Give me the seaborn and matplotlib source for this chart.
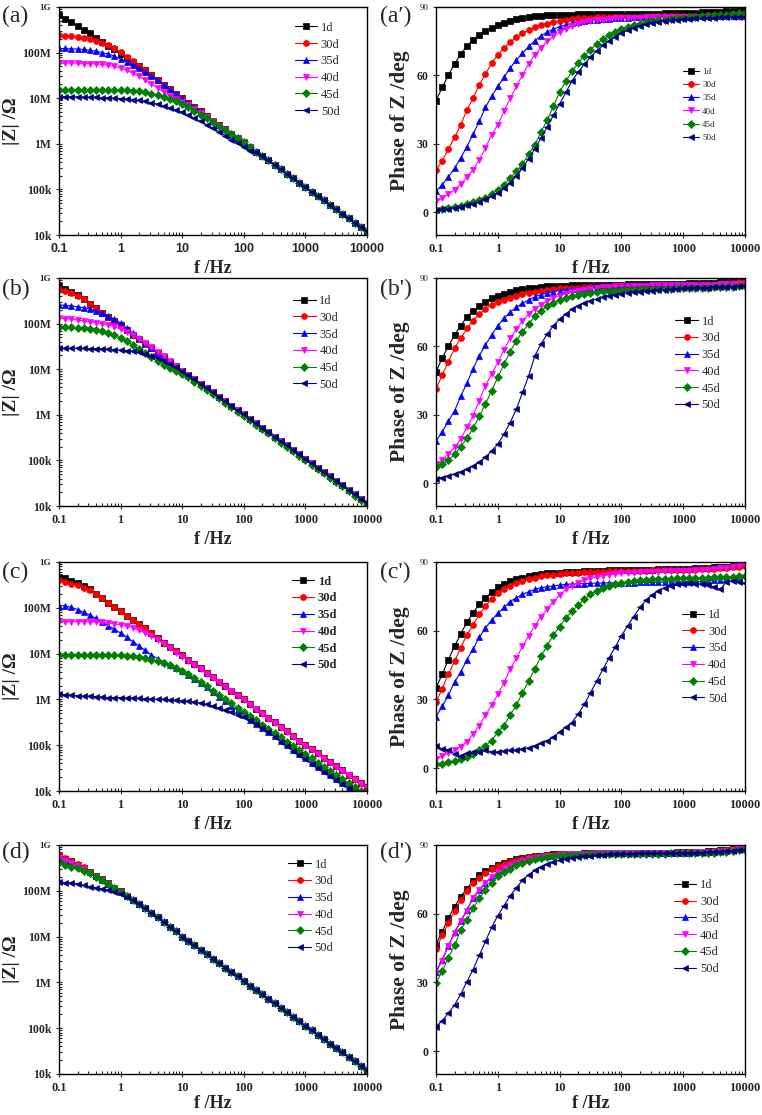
import numpy as np
import matplotlib
matplotlib.use("Agg")
import matplotlib.pyplot as plt
from matplotlib.ticker import LogLocator, NullFormatter
import seaborn as sns

# frequency sweep (Hz), 10 points per decade
freq = [0.1, 0.126, 0.158, 0.2, 0.251, 0.316, 0.398, 0.501, 0.631, 0.794,
        1, 1.26, 1.58, 2, 2.51, 3.16, 3.98, 5.01, 6.31, 7.94,
        10, 12.6, 15.8, 20, 25.1, 31.6, 39.8, 50.1, 63.1, 79.4,
        100, 126, 158, 200, 251, 316, 398, 501, 631, 794,
        1000, 1260, 1580, 2000, 2510, 3160, 3980, 5010, 6310, 7940, 10000]

days = ["1d", "30d", "35d", "40d", "45d", "50d"]
colors = ["#000000", "#ff0000", "#0000ff", "#ff00ff", "#008000", "#000080"]
markers = ["s", "o", "^", "v", "D", "<"]

xticks = [0.1, 1, 10, 100, 1000, 10000]
xticklabels = ["0.1", "1", "10", "100", "1000", "10000"]
zticks = [1e4, 1e5, 1e6, 1e7, 1e8, 1e9]
zticklabels = ["10k", "100k", "1M", "10M", "100M", "1G"]
pticks = [0, 30, 60, 90]
pticklabels = ["0", "30", "60", "90"]


def fill(head, line):
    """low-frequency part of a curve followed by the shared high-frequency line"""
    return head + line[len(head):]


# ---- (a) log10 |Z| ----
za_1d = [8.82, 8.74, 8.67, 8.59, 8.50, 8.42, 8.32, 8.23, 8.14, 8.07,
         7.98, 7.88, 7.79, 7.70, 7.61, 7.50, 7.39, 7.30, 7.20, 7.10,
         7.00, 6.90, 6.81, 6.71, 6.61, 6.51, 6.42, 6.32, 6.22, 6.12,
         6.03, 5.93, 5.83, 5.73, 5.64, 5.54, 5.44, 5.34, 5.25, 5.15,
         5.05, 4.95, 4.86, 4.76, 4.66, 4.56, 4.47, 4.37, 4.27, 4.18, 4.08]
za_30d = fill([8.38, 8.37, 8.36, 8.35, 8.33, 8.30, 8.26, 8.21, 8.16, 8.09,
               8.01, 7.91, 7.81, 7.71], za_1d)
za_35d = fill([8.09, 8.09, 8.08, 8.08, 8.07, 8.05, 8.03, 8.00, 7.97, 7.92,
               7.86, 7.80, 7.73, 7.66, 7.58, 7.49, 7.39], za_1d)
za_40d = fill([7.77, 7.77, 7.77, 7.77, 7.76, 7.76, 7.75, 7.74, 7.72, 7.70,
               7.66, 7.61, 7.55, 7.48, 7.40, 7.31, 7.22, 7.13, 7.05, 6.98,
               6.92, 6.84, 6.76, 6.67, 6.58, 6.49, 6.40, 6.31, 6.21, 6.12], za_1d)
za_45d = fill([7.19, 7.19, 7.19, 7.19, 7.19, 7.19, 7.19, 7.19, 7.19, 7.18,
               7.18, 7.17, 7.16, 7.15, 7.13, 7.10, 7.07, 7.03, 6.98, 6.93,
               6.87, 6.80, 6.72, 6.64, 6.56, 6.48, 6.39, 6.30, 6.21, 6.12], za_1d)
za_50d = fill([7.03, 7.03, 7.03, 7.03, 7.02, 7.02, 7.02, 7.01, 7.01, 7.00,
               6.99, 6.98, 6.97, 6.95, 6.93, 6.90, 6.87, 6.83, 6.79, 6.74,
               6.69, 6.63, 6.56, 6.49, 6.42, 6.34, 6.26, 6.18, 6.09, 6.01,
               5.93, 5.84], za_1d)

# ---- (a') phase ----
pa_1d = [48.9, 54.7, 60.0, 65.1, 69.4, 72.7, 75.7, 77.9, 79.5, 80.9,
         82.2, 83.1, 84.0, 84.7, 85.2, 85.6, 85.9, 86.2, 86.3, 86.5,
         86.6, 86.7, 86.7, 86.8, 86.8, 86.8, 86.9, 86.9, 86.9, 86.9,
         87.0, 87.0, 87.0, 87.0, 87.1, 87.1, 87.1, 87.2, 87.2, 87.3,
         87.3, 87.4, 87.5, 87.6, 87.7, 87.8, 88.0, 88.2, 88.4, 88.6, 88.8]
pa_30d = [18.6, 22.5, 27.7, 32.8, 38.3, 44.9, 50.0, 55.9, 60.6, 65.3,
          69.1, 72.0, 74.6, 76.8, 78.6, 79.8, 81.1, 82.0, 82.7, 83.5,
          84.0, 84.4, 84.8, 85.0, 85.2, 85.3, 85.4, 85.5, 85.6, 85.6,
          85.7, 85.7, 85.8, 85.8, 85.8, 85.9, 85.9, 85.9, 86.0, 86.0,
          86.0, 86.1, 86.1, 86.2, 86.3, 86.4, 86.5, 86.6, 86.8, 87.0, 87.2]
pa_35d = [9.1, 12.1, 15.4, 19.3, 23.7, 28.8, 34.2, 39.8, 46.0, 50.8,
          55.2, 59.1, 63.2, 66.7, 69.8, 72.7, 75.2, 77.4, 79.0, 80.3,
          81.4, 82.2, 82.8, 83.4, 83.8, 84.2, 84.5, 84.7, 84.9, 85.1,
          85.2, 85.3, 85.4, 85.5, 85.5, 85.6, 85.6, 85.7, 85.7, 85.7,
          85.8, 85.8, 85.8, 85.9, 85.9, 85.9, 86.0, 86.0, 86.1, 86.1, 86.2]
pa_40d = [4.7, 6.1, 7.9, 9.8, 12.3, 15.4, 18.6, 23.0, 28.1, 34.0,
          38.3, 44.2, 50.0, 55.2, 60.3, 65.0, 69.1, 72.0, 74.9, 77.1,
          79.0, 80.5, 81.5, 82.5, 83.3, 83.7, 84.1, 84.4, 84.7, 85.0,
          85.1, 85.2, 85.3, 85.3, 85.4, 85.4, 85.5, 85.5, 85.5, 85.5,
          85.5, 85.6, 85.6, 85.6, 85.6, 85.7, 85.7, 85.7, 85.8, 85.8, 85.9]
pa_45d = [1.0, 1.5, 1.8, 2.2, 2.9, 3.5, 4.4, 5.3, 6.4, 7.9,
          9.8, 12.0, 14.9, 18.1, 21.2, 25.5, 29.6, 35.1, 40.5, 46.4,
          52.7, 57.4, 61.8, 65.4, 68.6, 71.3, 73.8, 75.8, 77.6, 79.0,
          80.2, 81.2, 82.0, 82.7, 83.3, 83.7, 84.1, 84.4, 84.7, 85.0,
          85.3, 85.5, 85.7, 85.9, 86.1, 86.3, 86.5, 86.7, 87.0, 87.2, 87.5]
pa_50d = [1.0, 1.2, 1.5, 1.9, 2.4, 3.0, 3.7, 4.6, 5.6, 6.9,
          8.5, 10.5, 13.0, 16.0, 19.5, 23.5, 27.8, 32.5, 37.5, 42.5,
          47.5, 52.5, 57.5, 61.5, 65.0, 68.0, 70.8, 73.2, 75.2, 77.0,
          78.5, 79.8, 80.8, 81.7, 82.4, 83.0, 83.5, 83.9, 84.2, 84.5,
          84.7, 84.9, 85.0, 85.1, 85.2, 85.3, 85.4, 85.5, 85.6, 85.7, 85.8]

# ---- (b) log10 |Z| ----
zb_1d = [8.83, 8.76, 8.70, 8.63, 8.54, 8.44, 8.34, 8.24, 8.15, 8.06,
         7.96, 7.86, 7.76, 7.66, 7.56, 7.46, 7.36, 7.26, 7.16, 7.07,
         6.97, 6.88, 6.78, 6.68, 6.59, 6.49, 6.39, 6.30, 6.20, 6.10,
         6.01, 5.91, 5.81, 5.72, 5.62, 5.52, 5.42, 5.33, 5.23, 5.13,
         5.04, 4.94, 4.84, 4.75, 4.65, 4.55, 4.46, 4.36, 4.26, 4.16, 4.07]
zb_30d = fill([8.76, 8.72, 8.67, 8.61, 8.53, 8.44], zb_1d)
zb_35d = fill([8.41, 8.40, 8.39, 8.37, 8.35, 8.32, 8.28, 8.23, 8.17, 8.10,
               8.01, 7.90, 7.79, 7.68, 7.57], zb_1d)
zb_40d = fill([8.12, 8.11, 8.10, 8.08, 8.06, 8.04, 8.02, 8.00, 7.97, 7.93,
               7.88, 7.82, 7.75, 7.67, 7.58, 7.48, 7.38, 7.28, 7.17, 7.07], zb_1d)
zb_45d = [7.93, 7.92, 7.92, 7.91, 7.90, 7.88, 7.86, 7.83, 7.79, 7.74,
          7.68, 7.61, 7.53, 7.44, 7.35, 7.26, 7.17, 7.09, 7.02, 6.96,
          6.90, 6.82, 6.73, 6.64, 6.55, 6.45, 6.36, 6.26, 6.17, 6.07,
          5.98, 5.88, 5.78, 5.69, 5.59, 5.49, 5.39, 5.30, 5.20, 5.10,
          5.01, 4.91, 4.81, 4.72, 4.62, 4.52, 4.43, 4.33, 4.23, 4.13, 4.04]
zb_50d = fill([7.46, 7.46, 7.46, 7.46, 7.46, 7.45, 7.45, 7.45, 7.44, 7.43,
               7.42, 7.41, 7.39, 7.37, 7.34, 7.30, 7.25, 7.19, 7.12, 7.04,
               6.96, 6.87], zb_1d)

# ---- (b') phase ----
pb_1d = [48.9, 54.9, 60.0, 65.0, 69.1, 72.8, 75.7, 77.6, 79.6, 81.1,
         82.3, 83.2, 84.0, 84.6, 85.1, 85.5, 85.8, 86.1, 86.3, 86.5,
         86.6, 86.7, 86.8, 86.9, 86.9, 87.0, 87.0, 87.0, 87.1, 87.1,
         87.1, 87.2, 87.2, 87.2, 87.3, 87.3, 87.3, 87.4, 87.4, 87.5,
         87.5, 87.6, 87.7, 87.8, 87.9, 88.0, 88.2, 88.4, 88.6, 88.8, 89.0]
pb_30d = [41.3, 47.4, 53.3, 59.2, 63.5, 67.9, 71.3, 74.2, 76.4, 78.2,
          79.4, 80.5, 81.4, 82.3, 83.0, 83.5, 84.0, 84.4, 84.8, 85.1,
          85.4, 85.6, 85.7, 85.8, 85.9, 86.0, 86.0, 86.1, 86.1, 86.2,
          86.2, 86.2, 86.3, 86.3, 86.3, 86.4, 86.4, 86.4, 86.5, 86.5,
          86.5, 86.6, 86.7, 86.8, 86.9, 87.1, 87.3, 87.5, 87.8, 88.1, 88.5]
pb_35d = [18.6, 22.5, 27.1, 31.8, 38.1, 43.9, 50.1, 55.9, 60.6, 65.0,
          69.1, 72.3, 75.0, 77.2, 78.9, 80.4, 81.8, 82.7, 83.5, 84.0,
          84.5, 84.8, 85.1, 85.3, 85.5, 85.7, 85.9, 86.0, 86.1, 86.2,
          86.3, 86.3, 86.4, 86.4, 86.4, 86.5, 86.5, 86.5, 86.5, 86.6,
          86.6, 86.6, 86.6, 86.7, 86.7, 86.7, 86.8, 86.8, 86.9, 86.9, 87.0]
pb_40d = [8.3, 10.2, 12.7, 15.7, 19.3, 24.5, 29.6, 36.2, 42.8, 47.9,
          53.0, 58.6, 63.5, 67.6, 71.3, 74.2, 76.4, 78.2, 79.8, 81.1,
          82.3, 83.1, 83.8, 84.4, 84.9, 85.3, 85.6, 85.9, 86.1, 86.3,
          86.5, 86.6, 86.6, 86.7, 86.7, 86.8, 86.8, 86.8, 86.9, 86.9,
          86.9, 87.0, 87.0, 87.0, 87.1, 87.1, 87.2, 87.2, 87.3, 87.4, 87.5]
pb_45d = [6.9, 8.3, 10.1, 12.7, 16.0, 19.8, 24.0, 29.3, 34.7, 40.6,
          46.4, 52.3, 57.7, 62.5, 66.5, 69.8, 73.2, 75.7, 77.6, 79.1,
          80.2, 81.1, 81.9, 82.5, 83.0, 83.4, 83.8, 84.1, 84.3, 84.5,
          84.7, 84.8, 84.9, 85.0, 85.1, 85.2, 85.2, 85.3, 85.3, 85.4,
          85.5, 85.5, 85.6, 85.7, 85.8, 85.9, 86.0, 86.1, 86.2, 86.4, 86.5]
pb_50d = [2.0, 2.5, 3.2, 4.0, 5.0, 6.1, 7.6, 9.1, 11.3, 14.2,
          17.1, 21.5, 26.6, 32.5, 39.8, 47.1, 55.9, 61.1, 65.4, 69.1,
          72.0, 74.2, 76.4, 77.9, 79.1, 80.1, 80.8, 81.6, 82.3, 82.7,
          83.2, 83.5, 83.8, 84.0, 84.3, 84.5, 84.7, 84.9, 85.1, 85.2,
          85.4, 85.5, 85.6, 85.7, 85.8, 85.9, 86.0, 86.1, 86.2, 86.4, 86.5]

# ---- (c) log10 |Z| ----
zc_1d = [8.67, 8.64, 8.59, 8.54, 8.48, 8.40, 8.31, 8.22, 8.11, 8.02,
         7.93, 7.82, 7.73, 7.64, 7.55, 7.44, 7.34, 7.24, 7.15, 7.05,
         6.97, 6.87, 6.78, 6.68, 6.58, 6.48, 6.39, 6.29, 6.19, 6.09,
         6.00, 5.90, 5.80, 5.70, 5.60, 5.50, 5.40, 5.30, 5.20, 5.10,
         5.00, 4.91, 4.82, 4.72, 4.63, 4.54, 4.45, 4.36, 4.27, 4.18, 4.09]
zc_30d = fill([8.60, 8.57, 8.53, 8.49, 8.44, 8.38, 8.31], zc_1d)
zc_35d = [8.05, 8.04, 8.01, 7.96, 7.90, 7.84, 7.77, 7.69, 7.61, 7.53,
          7.45, 7.36, 7.26, 7.17, 7.07, 6.97, 6.89, 6.82, 6.76, 6.69,
          6.62, 6.54, 6.45, 6.36, 6.26, 6.16, 6.06, 5.96, 5.86, 5.76,
          5.66, 5.56, 5.47, 5.38, 5.29, 5.19, 5.10, 5.00, 4.90, 4.80,
          4.71, 4.62, 4.53, 4.44, 4.35, 4.26, 4.17, 4.08, 3.99, 3.90, 3.81]
zc_40d = [7.70, 7.70, 7.70, 7.70, 7.70, 7.69, 7.69, 7.68, 7.67, 7.65,
          7.63, 7.60, 7.56, 7.51, 7.45, 7.38, 7.30, 7.21, 7.12, 7.02,
          6.93, 6.84, 6.75, 6.66, 6.56, 6.47, 6.37, 6.27, 6.18, 6.08,
          5.98, 5.88, 5.78, 5.68, 5.58, 5.48, 5.38, 5.28, 5.18, 5.08,
          4.98, 4.89, 4.80, 4.70, 4.61, 4.52, 4.43, 4.34, 4.25, 4.16, 4.07]
zc_45d = [6.98, 6.98, 6.98, 6.98, 6.98, 6.98, 6.98, 6.97, 6.97, 6.97,
          6.96, 6.95, 6.94, 6.92, 6.90, 6.87, 6.84, 6.80, 6.75, 6.69,
          6.63, 6.55, 6.47, 6.38, 6.29, 6.19, 6.10, 6.01, 5.92, 5.82,
          5.73, 5.64, 5.54, 5.45, 5.36, 5.26, 5.17, 5.08, 4.98, 4.89,
          4.80, 4.71, 4.62, 4.53, 4.44, 4.35, 4.26, 4.17, 4.08, 4.00, 3.92]
zc_50d = [6.12, 6.10, 6.09, 6.08, 6.07, 6.07, 6.06, 6.05, 6.04, 6.04,
          6.04, 6.03, 6.03, 6.02, 6.01, 6.01, 6.00, 6.00, 5.99, 5.98,
          5.97, 5.96, 5.94, 5.92, 5.89, 5.85, 5.81, 5.77, 5.72, 5.67,
          5.61, 5.54, 5.46, 5.37, 5.28, 5.18, 5.08, 4.98, 4.88, 4.78,
          4.69, 4.60, 4.51, 4.42, 4.33, 4.24, 4.15, 4.06, 3.97, 3.88, 3.79]

# ---- (c') phase ----
pc_1d = [35.1, 40.9, 47.4, 53.2, 58.7, 63.6, 67.9, 71.5, 74.1, 77.0,
         78.9, 80.3, 81.5, 82.4, 83.2, 84.0, 84.4, 84.7, 85.0, 85.3,
         85.4, 85.6, 85.7, 85.8, 85.9, 86.0, 86.1, 86.2, 86.3, 86.4,
         86.5, 86.5, 86.6, 86.6, 86.7, 86.7, 86.8, 86.8, 86.9, 86.9,
         87.0, 87.1, 87.2, 87.3, 87.4, 87.6, 87.8, 88.0, 88.3, 88.6, 89.0]
pc_30d = [28.9, 34.7, 40.9, 46.7, 52.5, 58.2, 62.6, 67.2, 70.8, 73.7,
          76.3, 78.0, 79.6, 80.9, 81.8, 82.7, 83.2, 83.8, 84.2, 84.5,
          84.8, 85.0, 85.2, 85.4, 85.5, 85.6, 85.7, 85.8, 85.9, 85.9,
          86.0, 86.1, 86.1, 86.2, 86.2, 86.3, 86.3, 86.4, 86.4, 86.5,
          86.5, 86.6, 86.7, 86.8, 86.9, 87.1, 87.3, 87.5, 87.7, 88.0, 88.3]
pc_35d = [22.5, 26.9, 31.8, 37.6, 41.9, 47.4, 52.0, 57.1, 61.1, 64.7,
          67.6, 70.2, 72.7, 74.4, 75.9, 77.0, 78.0, 78.8, 79.2, 79.6,
          79.9, 80.2, 80.4, 80.5, 80.6, 80.7, 80.8, 80.8, 80.9, 80.9,
          81.0, 81.0, 81.0, 81.1, 81.1, 81.1, 81.2, 81.2, 81.2, 81.3,
          81.3, 81.4, 81.5, 81.6, 81.8, 82.0, 82.3, 82.7, 83.1, 83.6, 84.2]
pc_40d = [4.0, 5.2, 6.6, 7.7, 9.4, 11.6, 14.9, 18.5, 23.1, 27.5,
          32.2, 37.3, 43.1, 48.1, 53.2, 57.8, 62.1, 66.2, 69.4, 72.7,
          75.6, 78.0, 79.6, 80.9, 82.1, 82.8, 83.5, 84.0, 84.4, 84.7,
          85.0, 85.2, 85.4, 85.5, 85.6, 85.7, 85.8, 85.9, 86.0, 86.0,
          86.1, 86.2, 86.3, 86.5, 86.7, 86.9, 87.2, 87.5, 87.9, 88.3, 88.8]
pc_45d = [1.6, 2.0, 2.6, 3.3, 4.0, 4.8, 6.2, 8.1, 9.8, 12.0,
          15.6, 18.5, 23.1, 27.5, 32.9, 38.0, 43.4, 48.8, 53.5, 58.2,
          61.8, 65.5, 68.4, 71.2, 73.7, 75.9, 77.5, 78.8, 79.6, 80.3,
          80.9, 81.4, 81.7, 82.0, 82.2, 82.4, 82.5, 82.6, 82.7, 82.8,
          82.9, 83.0, 83.0, 83.1, 83.2, 83.3, 83.4, 83.5, 83.6, 83.8, 84.0]
pc_50d = [9.8, 8.4, 8.1, 6.2, 5.5, 6.5, 6.9, 7.2, 7.7, 7.2,
          6.9, 7.4, 7.7, 7.9, 8.4, 8.8, 9.8, 10.8, 12.0, 13.4,
          15.9, 17.8, 19.9, 23.6, 27.9, 32.9, 38.0, 43.1, 48.1, 52.9,
          57.8, 62.1, 66.2, 70.2, 73.4, 75.6, 77.5, 78.8, 79.6, 80.3,
          80.6, 80.9, 80.6, 80.3, 79.9, 79.2, 78.0, 81.4, 81.8, 81.2, 80.9]

# ---- (d) log10 |Z| ----
zd_1d = [8.76, 8.70, 8.64, 8.57, 8.50, 8.41, 8.33, 8.25, 8.16, 8.07,
         7.99, 7.89, 7.80, 7.71, 7.62, 7.52, 7.42, 7.32, 7.22, 7.12,
         7.00, 6.91, 6.81, 6.71, 6.62, 6.52, 6.42, 6.32, 6.23, 6.13,
         6.03, 5.93, 5.83, 5.74, 5.64, 5.54, 5.44, 5.35, 5.25, 5.15,
         5.05, 4.96, 4.86, 4.76, 4.66, 4.57, 4.47, 4.37, 4.28, 4.18, 4.08]
zd_30d = fill([8.78, 8.72, 8.65, 8.58, 8.51, 8.42], zd_1d)
zd_35d = fill([8.72, 8.67, 8.61, 8.55, 8.48, 8.40, 8.32, 8.24, 8.15, 8.07,
               7.98], zd_1d)
zd_40d = fill([8.71, 8.66, 8.60, 8.54, 8.47, 8.39, 8.31, 8.23, 8.15, 8.06,
               7.97], zd_1d)
zd_45d = fill([8.62, 8.57, 8.53, 8.49, 8.44, 8.38, 8.31, 8.23, 8.15, 8.07,
               7.98], zd_1d)
zd_50d = fill([8.20, 8.18, 8.17, 8.15, 8.12, 8.09, 8.07, 8.04, 8.01, 7.97,
               7.93, 7.87, 7.80, 7.71], zd_1d)

# ---- (d') phase ----
pd_1d = [46.5, 52.2, 58.0, 63.1, 67.4, 71.0, 74.3, 76.8, 78.5, 79.9,
         81.1, 82.3, 83.0, 83.7, 84.3, 84.7, 85.1, 85.4, 85.7, 85.9,
         86.0, 86.1, 86.2, 86.2, 86.3, 86.3, 86.4, 86.4, 86.4, 86.5,
         86.5, 86.5, 86.6, 86.6, 86.6, 86.7, 86.7, 86.7, 86.7, 86.8,
         86.8, 86.9, 87.0, 87.1, 87.2, 87.4, 87.6, 87.9, 88.2, 88.6, 89.0]
pd_30d = [44.6, 50.5, 55.8, 61.2, 65.9, 69.8, 73.2, 75.8, 77.8, 79.4,
          80.7, 81.8, 82.7, 83.4, 84.0, 84.6, 85.0, 85.3, 85.5, 85.7,
          85.9, 86.0, 86.1, 86.2, 86.2, 86.3, 86.3, 86.4, 86.4, 86.4,
          86.5, 86.5, 86.5, 86.6, 86.6, 86.6, 86.7, 86.7, 86.7, 86.8,
          86.8, 86.9, 86.9, 87.0, 87.1, 87.3, 87.5, 87.8, 88.1, 88.5, 88.9]
pd_40d = [34.2, 39.5, 45.7, 51.5, 56.6, 61.2, 66.7, 70.3, 73.4, 76.0,
          78.2, 79.9, 81.1, 82.3, 83.0, 83.7, 84.3, 84.7, 85.1, 85.4,
          85.7, 85.9, 86.0, 86.1, 86.2, 86.2, 86.3, 86.3, 86.3, 86.4,
          86.4, 86.4, 86.5, 86.5, 86.5, 86.5, 86.6, 86.6, 86.6, 86.6,
          86.7, 86.7, 86.8, 86.9, 87.0, 87.1, 87.3, 87.5, 87.8, 88.1, 88.5]
pd_35d = fill([34.6, 39.9, 46.0, 51.8, 56.9, 61.5, 66.9, 70.5, 73.6, 76.2,
               78.3, 80.0, 81.2, 82.4, 83.1, 83.8], pd_40d)
pd_45d = [29.6, 34.9, 40.7, 46.2, 53.0, 57.3, 62.3, 66.7, 70.3, 73.6,
          76.3, 78.2, 79.7, 81.1, 82.1, 83.0, 83.7, 84.3, 84.7, 85.0,
          85.3, 85.5, 85.6, 85.7, 85.8, 85.9, 85.9, 86.0, 86.0, 86.0,
          86.0, 86.1, 86.1, 86.1, 86.2, 86.2, 86.2, 86.2, 86.3, 86.3,
          86.3, 86.4, 86.5, 86.5, 86.6, 86.7, 86.9, 87.1, 87.4, 87.7, 88.0]
pd_50d = [10.7, 13.3, 16.5, 20.2, 24.8, 30.3, 35.6, 41.8, 47.9, 54.0,
          59.2, 63.5, 67.8, 71.3, 74.6, 77.1, 78.9, 80.4, 81.5, 82.5,
          83.3, 84.0, 84.4, 84.8, 85.1, 85.4, 85.6, 85.8, 85.9, 86.0,
          86.1, 86.2, 86.2, 86.3, 86.3, 86.4, 86.4, 86.4, 86.5, 86.5,
          86.5, 86.6, 86.6, 86.7, 86.8, 86.9, 87.1, 87.3, 87.5, 87.8, 88.0]

sns.set_style("ticks")
plt.rcParams["font.family"] = ["Liberation Serif", "DejaVu Serif"]
plt.rcParams["axes.linewidth"] = 1.0

W, H = 762, 1115
fig = plt.figure(figsize=(W / 100, H / 100), dpi=100)

# (series, kind, tag, row, col, legend anchor, legend fontsize, legend spacing, legend bold)
panels = [
    ([za_1d, za_30d, za_35d, za_40d, za_45d, za_50d], "mod", "(a)", 0, 0, (0.765, 0.935), 9, 0.38, False),
    ([pa_1d, pa_30d, pa_35d, pa_40d, pa_45d, pa_50d], "phase", "(a\u2032)", 0, 1, (0.80, 0.735), 6.5, 0.55, False),
    ([zb_1d, zb_30d, zb_35d, zb_40d, zb_45d, zb_50d], "mod", "(b)", 1, 0, (0.76, 0.925), 9, 0.38, False),
    ([pb_1d, pb_30d, pb_35d, pb_40d, pb_45d, pb_50d], "phase", "(b')", 1, 1, (0.775, 0.835), 9, 0.38, False),
    ([zc_1d, zc_30d, zc_35d, zc_40d, zc_45d, zc_50d], "mod", "(c)", 2, 0, (0.755, 0.94), 9, 0.38, True),
    ([pc_1d, pc_30d, pc_35d, pc_40d, pc_45d, pc_50d], "phase", "(c')", 2, 1, (0.795, 0.795), 9, 0.38, False),
    ([zd_1d, zd_30d, zd_35d, zd_40d, zd_45d, zd_50d], "mod", "(d)", 3, 0, (0.745, 0.94), 9, 0.38, False),
    ([pd_1d, pd_30d, pd_35d, pd_40d, pd_45d, pd_50d], "phase", "(d')", 3, 1, (0.77, 0.85), 9, 0.38, False),
]

# axes boxes in pixels: (left, right) per column, (top, bottom) per row
cols_px = [(59, 367), (436, 745)]
rows_px = [(7, 235), (278, 506), (562, 791), (845, 1074)]
tag_y = [16, 289, 572, 852]
tag_x = [2, 380]

for series, kind, tag, r, c, anchor, lfs, lsp, lbold in panels:
    l, rgt = cols_px[c]
    top, bot = rows_px[r]
    ax = fig.add_axes([l / W, 1 - bot / H, (rgt - l) / W, (bot - top) / H])

    for day, vals, col, mk in zip(days, series, colors, markers):
        y = 10 ** np.array(vals) if kind == "mod" else np.array(vals)
        sns.lineplot(x=freq, y=y, ax=ax, color=col, marker=mk,
                     markersize=3.8 if mk == "D" else 4.3, mec=col, mew=0.5,
                     lw=0.8, label=day)

    ax.set_xscale("log")
    ax.set_xlim(0.1, 10000)
    ax.set_xticks(xticks, xticklabels)
    ax.xaxis.set_minor_locator(LogLocator(base=10, subs=np.arange(2, 10), numticks=20))
    ax.xaxis.set_minor_formatter(NullFormatter())
    xfam = ["Liberation Sans"] if (r == 0 and c == 0) else ["Liberation Serif"]
    for t in ax.get_xticklabels():
        t.set_fontweight("bold")
        t.set_fontsize(9)
        t.set_family(xfam)

    if kind == "mod":
        ax.set_yscale("log")
        ax.set_ylim(1e4, 1e9)
        ax.set_yticks(zticks, zticklabels)
        ax.yaxis.set_minor_locator(LogLocator(base=10, subs=np.arange(2, 10), numticks=20))
        ax.yaxis.set_minor_formatter(NullFormatter())
        ax.set_ylabel("|Z| /\u03a9", fontsize=14, fontweight="bold", labelpad=2)
    else:
        ax.set_ylim(-10, 90)
        ax.set_yticks(pticks, pticklabels)
        ax.set_ylabel("Phase of Z /deg", fontsize=15.5, fontweight="bold", labelpad=5)
    ylabs = ax.get_yticklabels()
    for t in ylabs:
        t.set_fontweight("bold")
        t.set_fontsize(8.5)
    ylabs[-1].set_fontsize(6.5)
    if kind == "phase":
        ylabs[-1].set_fontweight("normal")

    ax.set_xlabel("f /Hz", fontsize=13, fontweight="bold",
                  labelpad=1 if r == 3 else 4)
    ax.tick_params(which="both", top=False, right=False, width=0.8)
    ax.tick_params(which="major", direction="inout", length=5, pad=3)
    ax.tick_params(which="minor", direction="in", length=2)
    for sp in ax.spines.values():
        sp.set_visible(True)
        sp.set_color("black")

    ax.legend(loc="upper left", bbox_to_anchor=anchor, frameon=False,
              borderaxespad=0, borderpad=0, handlelength=1.8, handletextpad=0.3,
              labelspacing=lsp,
              prop={"family": "Liberation Serif", "size": lfs,
                    "weight": "bold" if lbold else "normal"})

    fig.text(tag_x[c] / W, 1 - tag_y[r] / H, tag, fontsize=17, ha="left", va="center")

fig.savefig("out.png", dpi=100)
